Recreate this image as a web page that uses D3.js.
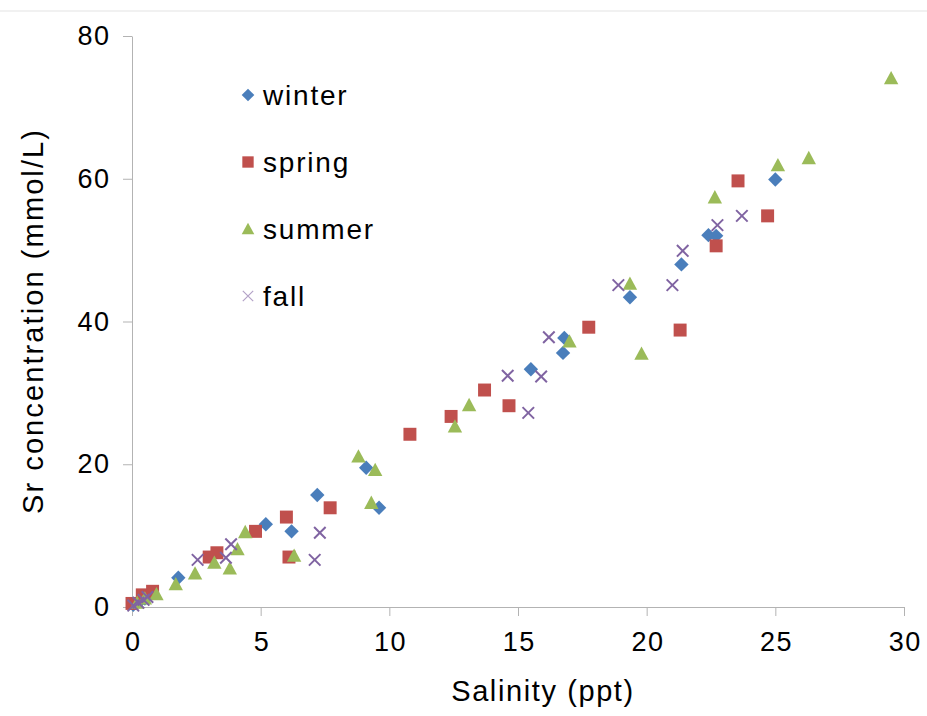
<!DOCTYPE html>
<html>
<head>
<meta charset="utf-8">
<script src="https://cdn.jsdelivr.net/npm/d3@7"></script>
<style>
  body { margin: 0; background: #fff; }
  text { font-family: "Liberation Sans", Arial, sans-serif; fill: #000; }
</style>
</head>
<body>
<svg id="chart" width="927" height="716"></svg>
<script>
// Sr vs salinity, one array of [salinity, Sr] per season
const winter = [
  [0.05, 0.3], [0.3, 0.8], [0.5, 1.2], [1.8, 4.1], [5.2, 11.6], [6.2, 10.6],
  [7.2, 15.7], [9.1, 19.5], [9.6, 13.9], [15.5, 33.3], [16.75, 35.6],
  [16.8, 37.7], [19.35, 43.4], [21.35, 48.0], [22.4, 52.1], [22.7, 52.0],
  [25.0, 59.9],
];
const spring = [
  [0.0, 0.5], [0.4, 1.7], [0.8, 2.2], [3.0, 7.0], [3.3, 7.6], [4.8, 10.6],
  [6.0, 12.6], [6.1, 7.0], [7.7, 13.9], [10.8, 24.2], [12.4, 26.7],
  [13.7, 30.4], [14.65, 28.2], [17.75, 39.2], [21.3, 38.8], [22.7, 50.6],
  [23.55, 59.7], [24.7, 54.8],
];
const summer = [
  [0.2, 0.6], [0.5, 1.2], [0.95, 1.8], [1.7, 3.2], [2.45, 4.7], [3.2, 6.2],
  [3.8, 5.4], [4.1, 8.1], [4.4, 10.5], [6.3, 7.2], [8.8, 21.1], [9.3, 14.6],
  [9.45, 19.2], [12.55, 25.3], [13.1, 28.3], [17.0, 37.2], [19.35, 45.3],
  [19.8, 35.5], [22.65, 57.4], [25.1, 61.9], [26.3, 62.9], [29.5, 74.1],
];
const fall = [
  [0.05, 0.2], [0.25, 0.6], [0.45, 1.0], [0.6, 1.4], [2.55, 6.6], [3.65, 6.9],
  [3.85, 8.8], [7.1, 6.6], [7.3, 10.4], [14.6, 32.4], [15.4, 27.2],
  [15.9, 32.3], [16.2, 37.8], [18.9, 45.1], [21.0, 45.1], [21.4, 49.9],
  [22.75, 53.5], [23.7, 54.8],
];

const xTicks = [0, 5, 10, 15, 20, 25, 30];
const yTicks = [0, 20, 40, 60, 80];

const series = [
  { name: "winter", data: winter, color: "#4a7ebb", shape: "diamond" },
  { name: "spring", data: spring, color: "#c0504d", shape: "square" },
  { name: "summer", data: summer, color: "#9bbb59", shape: "triangle" },
  { name: "fall", data: fall, color: "#8064a2", shape: "cross" },
];

const svg = d3.select("#chart");
const x = d3.scaleLinear().domain([0, 30]).range([132, 904]);
const y = d3.scaleLinear().domain([0, 80]).range([607, 36]);

// faint rule at top of the picture
svg.append("line")
  .attr("x1", 0).attr("x2", 927).attr("y1", 11).attr("y2", 11)
  .attr("stroke", "#e3e3e3");

const xAxis = svg.append("g")
  .attr("transform", `translate(0,${y(0)})`)
  .call(d3.axisBottom(x).tickValues(xTicks).tickSize(9).tickPadding(16).tickSizeOuter(0));
const yAxis = svg.append("g")
  .attr("transform", `translate(${x(0)},0)`)
  .call(d3.axisLeft(y).tickValues(yTicks).tickSize(9).tickPadding(14).tickSizeOuter(0));

[xAxis, yAxis].forEach((g) => {
  g.select(".domain").attr("stroke", "#b3b3b3");
  g.selectAll(".tick line").attr("stroke", "#b3b3b3");
  g.selectAll(".tick text")
    .style("font-family", '"Liberation Sans", Arial, sans-serif')
    .style("font-size", "27px")
    .style("letter-spacing", "1.5px")
    .attr("fill", "#000");
});
// letter-spacing pads after the last glyph too; pull centred labels back
xAxis.selectAll(".tick text").attr("dx", "0.75px");
yAxis.selectAll(".tick text").attr("dx", "1.5px");

svg.append("text")
  .attr("x", 543).attr("y", 701)
  .attr("text-anchor", "middle")
  .style("font-size", "29px")
  .style("letter-spacing", "1.6px")
  .text("Salinity (ppt)");

svg.append("text")
  .attr("transform", "translate(43,321) rotate(-90)")
  .attr("text-anchor", "middle")
  .style("font-size", "29px")
  .style("letter-spacing", "2.1px")
  .text("Sr concentration (mmol/L)");

function marker(g, shape, color, s, sw) {
  if (shape === "diamond") {
    g.append("path").attr("d", `M0,${-s}L${s},0L0,${s}L${-s},0Z`).attr("fill", color);
  } else if (shape === "square") {
    g.append("rect").attr("x", -s * 0.9).attr("y", -s * 0.9)
      .attr("width", s * 1.8).attr("height", s * 1.8).attr("fill", color);
  } else if (shape === "triangle") {
    g.append("path").attr("d", `M0,${-s}L${s},${s * 0.85}L${-s},${s * 0.85}Z`).attr("fill", color);
  } else {
    const c = s * 0.8;
    g.append("path").attr("d", `M${-c},${-c}L${c},${c}M${-c},${c}L${c},${-c}`)
      .attr("stroke", color).attr("stroke-width", sw || 2).attr("fill", "none");
  }
}

series.forEach((sr) => {
  svg.append("g")
    .selectAll("g")
    .data(sr.data)
    .enter()
    .append("g")
    .attr("transform", (d) => `translate(${x(d[0])},${y(d[1])})`)
    .each(function () { marker(d3.select(this), sr.shape, sr.color, 7.2); });
});

// legend
const legend = svg.append("g")
  .selectAll("g")
  .data(series)
  .enter()
  .append("g")
  .attr("transform", (d, i) => `translate(248,${95 + i * 67})`);
legend.each(function (d) {
  if (d.shape === "cross") {
    marker(d3.select(this), d.shape, "#b3a2c7", 6.5, 1.2);
  } else {
    marker(d3.select(this), d.shape, d.color, 6.3);
  }
});
legend.append("text")
  .attr("x", 15).attr("y", 10)
  .style("font-size", "28px")
  .style("letter-spacing", "1.8px")
  .text((d) => d.name);
</script>
</body>
</html>
